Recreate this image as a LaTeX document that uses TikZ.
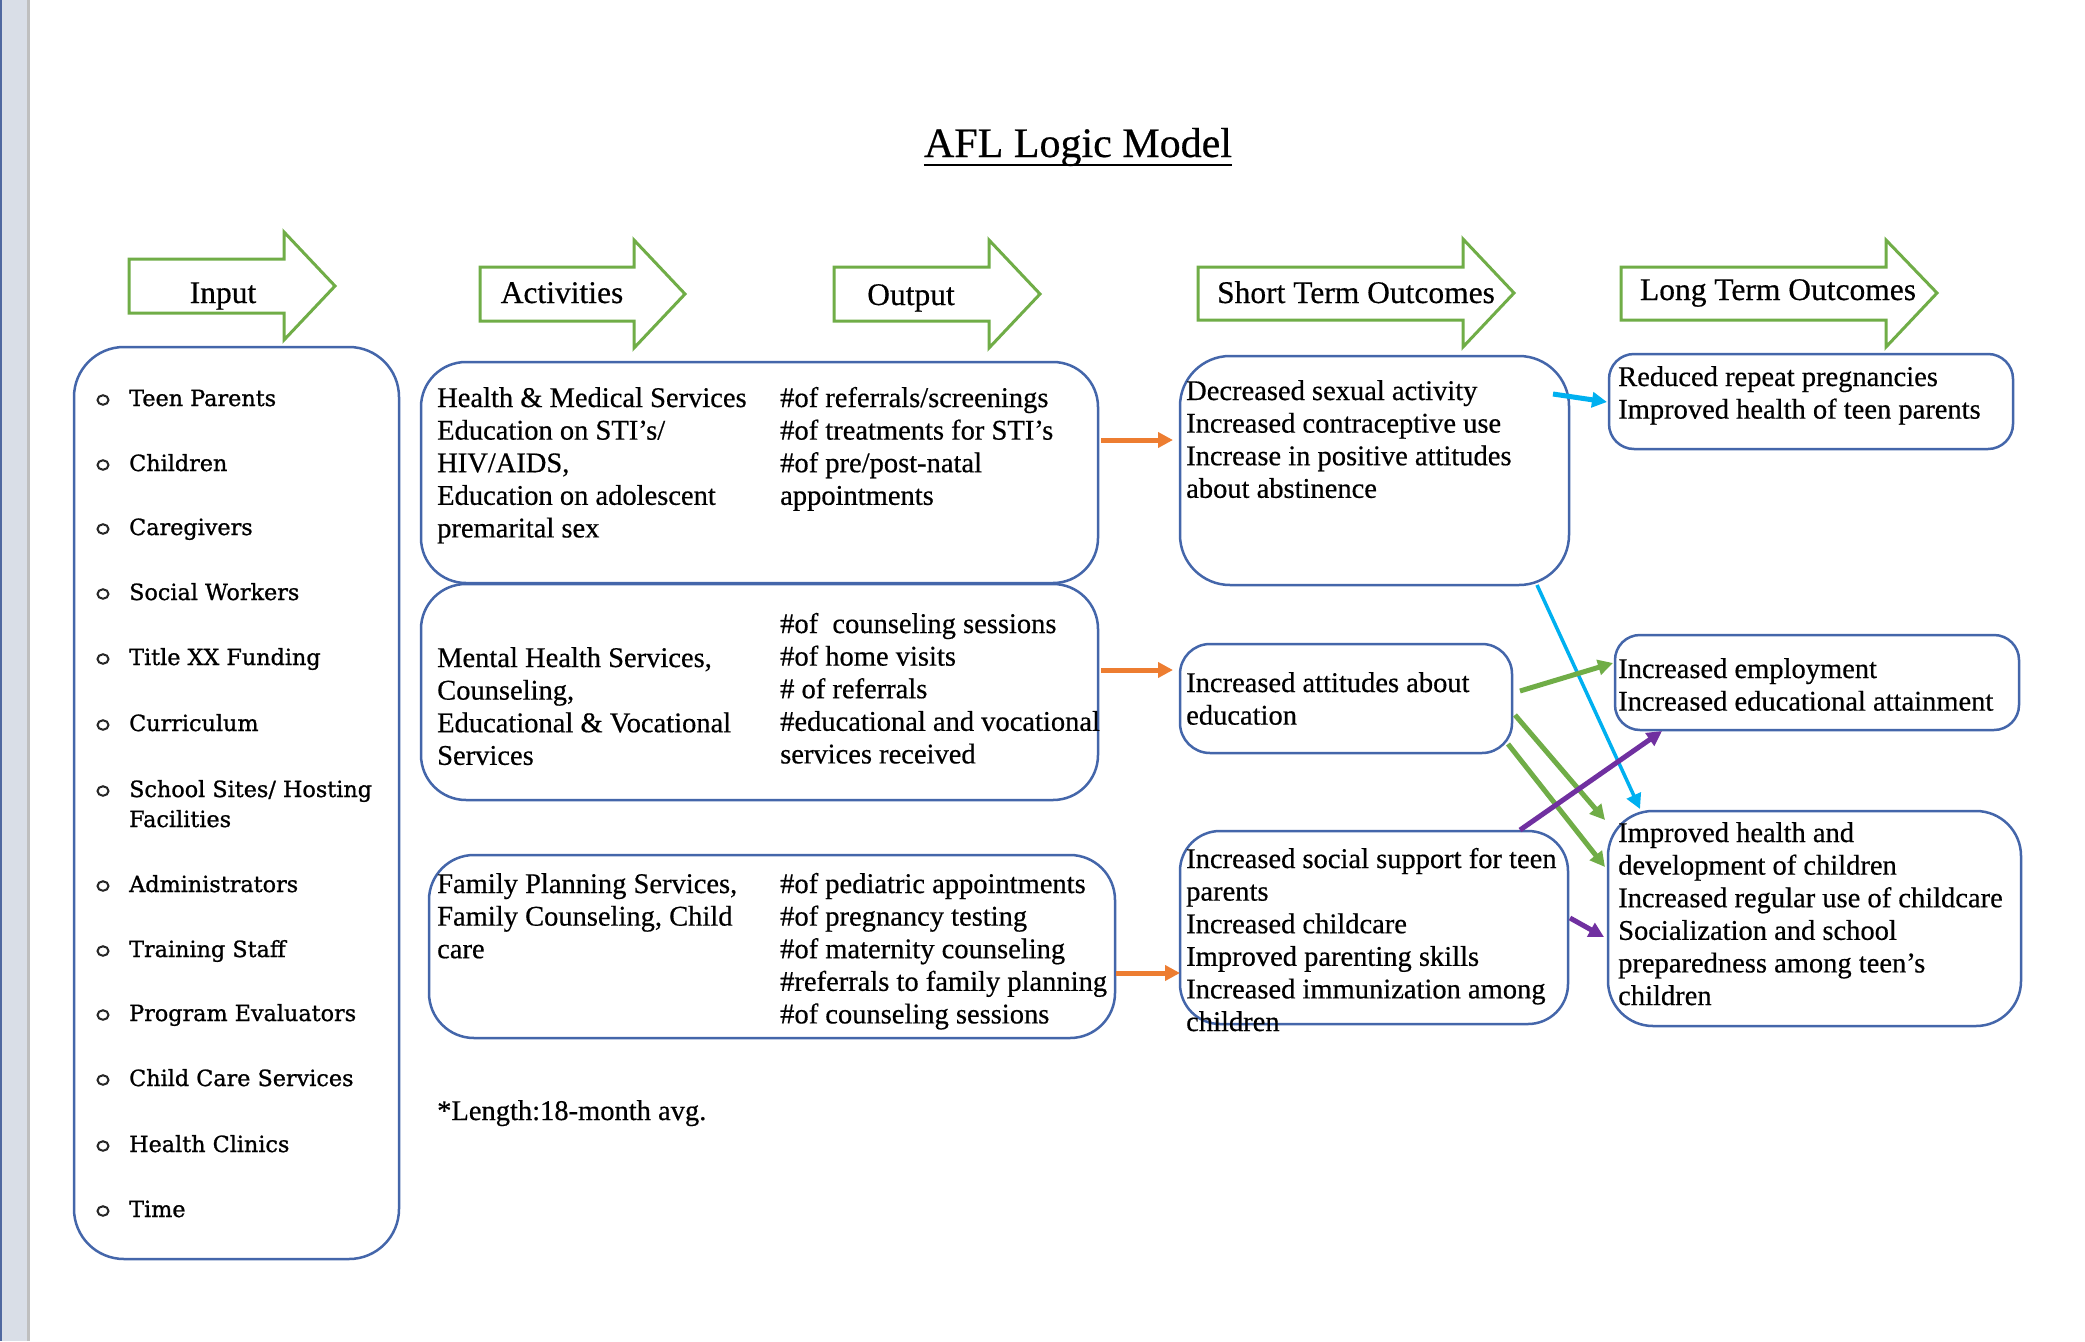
\documentclass[tikz,border=0pt]{standalone}
\usepackage{fontspec}
\setmainfont[FakeBold=0.5]{Liberation Serif}
\newfontfamily\inpfont[FakeBold=1]{DejaVu Serif}
\usetikzlibrary{arrows.meta,shapes.geometric}
\definecolor{boxblue}{HTML}{4466AA}
\definecolor{hdrgreen}{HTML}{70AD47}
\definecolor{aorange}{HTML}{ED7D31}
\definecolor{acyan}{HTML}{00B0F0}
\definecolor{agreen}{HTML}{70AD47}
\definecolor{apurple}{HTML}{7030A0}
\definecolor{bandgray}{HTML}{D9DEE7}
\definecolor{bandline}{HTML}{5068A0}
\newcommand\ml[1]{\vtop{\let\\\cr\halign{##\hfil\cr#1\crcr}}}
\newcommand\bodyf{\fontsize{28.5}{32.6}\selectfont}
\newcommand\hdrf{\fontsize{31.5}{36}\selectfont}
\newcommand\inpf{\inpfont\fontsize{22.3}{30}\selectfont}
\begin{document}
\begin{tikzpicture}[x=1pt,y=-1pt,
  box/.style={draw=boxblue, line width=2.5pt, rounded corners=#1, inner sep=0pt, outer sep=0pt},
  box/.default=45pt,
  hdr/.style={draw=hdrgreen, line width=3pt, line join=miter, fill=white},
  hdrtxt/.style={anchor=base, inner sep=0pt, font=\hdrf},
  txt/.style={anchor=base west, inner sep=0pt, font=\bodyf},
  inp/.style={anchor=base west, inner sep=0pt, font=\inpf},
  bul/.style={ellipse, draw=black!85, line width=2pt, minimum width=11pt, minimum height=9.5pt, inner sep=0pt},
  oarr/.style={draw=aorange, line width=5pt, -{Triangle[length=15pt,width=15pt]}},
  carr/.style={draw=acyan, line width=#1, -{Triangle[length=15pt,width=15pt]}},
  garr/.style={draw=agreen, line width=5pt, -{Triangle[length=15pt,width=15pt]}},
  parr/.style={draw=apurple, line width=5pt, -{Triangle[length=15pt,width=15pt]}}
]
\useasboundingbox (0,0) rectangle (2085,1341);
\fill[white] (0,0) rectangle (2085,1341);
% left band
\fill[bandgray] (0,0) rectangle (27,1341);
\fill[bandline] (0,0) rectangle (2,1341);
\fill[black!25] (27,0) rectangle (30,1341);

% title
\node[anchor=base, inner sep=0pt, font=\fontsize{42}{48}\selectfont] (title) at (1078,157) {AFL Logic Model};
\draw[line width=2.5pt] ([yshift=-8pt]title.base west) -- ([yshift=-8pt]title.base east);

% header arrows
\draw[hdr] (129,259) -- (284,259) -- (284,232) -- (335,286) -- (284,340) -- (284,313) -- (129,313) -- cycle;
\draw[hdr] (480,267) -- (634,267) -- (634,240) -- (685,294) -- (634,348) -- (634,321) -- (480,321) -- cycle;
\draw[hdr] (834,267) -- (989,267) -- (989,240) -- (1040,294) -- (989,348) -- (989,321) -- (834,321) -- cycle;
\draw[hdr] (1198,267) -- (1463,267) -- (1463,239) -- (1514,293) -- (1463,347) -- (1463,320) -- (1198,320) -- cycle;
\draw[hdr] (1621,267) -- (1886,267) -- (1886,240) -- (1937,293) -- (1886,347) -- (1886,320) -- (1621,320) -- cycle;
\node[hdrtxt] (hin) at (223,303) {Input};
\node[hdrtxt] (hact) at (562,303) {Activities};
\node[hdrtxt] (hout) at (911,305) {Output};
\node[hdrtxt] (hst) at (1356,303) {Short Term Outcomes};
\node[hdrtxt] (hlt) at (1778,300) {Long Term Outcomes};

% boxes
\node[box=50pt, minimum width=325pt, minimum height=912pt] (inpbox) at (236.5,803) {};
\node[box, minimum width=677pt, minimum height=221pt] (a1) at (759.5,472.5) {};
\node[box, minimum width=677pt, minimum height=216pt] (a2) at (759.5,692) {};
\node[box, minimum width=686pt, minimum height=183pt] (a3) at (772,946.5) {};
\node[box=50pt, minimum width=389pt, minimum height=229pt] (s1) at (1374.5,470.5) {};
\node[box=30pt, minimum width=332pt, minimum height=109pt] (s2) at (1346,698.5) {};
\node[box=40pt, minimum width=388pt, minimum height=193pt] (s3) at (1374,927.5) {};
\node[box=25pt, minimum width=404pt, minimum height=95pt] (l1) at (1811,401.5) {};
\node[box=25pt, minimum width=404pt, minimum height=95pt] (l2) at (1817,682.5) {};
\node[box, minimum width=413pt, minimum height=215pt] (l3) at (1814.5,918.5) {};

% input list
\foreach \yy/\lab [count=\i] in {406/Teen Parents, 471/Children, 535/Caregivers, 600/Social Workers, 665/Title XX Funding, 731/Curriculum, 797/{\ml{School Sites/ Hosting\\Facilities}}, 892/Administrators, 957/Training Staff, 1021/Program Evaluators, 1086/Child Care Services, 1152/Health Clinics, 1217/Time}{
  \node[bul] (bul\i) at (103,\yy-6) {};
  \node[inp] (in\i) at (129,\yy) {\lab};
}

% activity / output text
\node[txt] (a1l) at (437,407) {\ml{Health \& Medical Services\\Education on STI’s/\\HIV/AIDS,\\Education on adolescent\\premarital sex}};
\node[txt] (a1r) at (780,407) {\ml{\#of referrals/screenings\\\#of treatments for STI’s\\\#of pre/post-natal\\appointments}};
\node[txt] (a2l) at (437,667) {\ml{Mental Health Services,\\Counseling,\\Educational \& Vocational\\Services}};
\node[txt] (a2r) at (780,633) {\ml{\#of\ \ counseling sessions\\\#of home visits\\\# of referrals\\\#educational and vocational\\services received}};
\node[txt] (a3l) at (437,893) {\ml{Family Planning Services,\\Family Counseling, Child\\care}};
\node[txt] (a3r) at (780,893) {\ml{\#of pediatric appointments\\\#of pregnancy testing\\\#of maternity counseling\\\#referrals to family planning\\\#of counseling sessions}};
\node[txt] (len) at (437,1120) {*Length:18-month avg.};

% outcomes text
\node[txt] (s1t) at (1186,400) {\ml{Decreased sexual activity\\Increased contraceptive use\\Increase in positive attitudes\\about abstinence}};
\node[txt] (s2t) at (1186,692) {\ml{Increased attitudes about\\education}};
\node[txt] (s3t) at (1186,868) {\ml{Increased social support for teen\\parents\\Increased childcare\\Improved parenting skills\\Increased immunization among\\children}};
\node[txt] (l1t) at (1618,386) {\ml{Reduced repeat pregnancies\\Improved health of teen parents}};
\node[txt] (l2t) at (1618,678) {\ml{Increased employment\\Increased educational attainment}};
\node[txt] (l3t) at (1618,842) {\ml{Improved health and\\development of children\\Increased regular use of childcare\\Socialization and school\\preparedness among teen’s\\children}};

% connectors
\draw[oarr] ([xshift=3pt,yshift=32.5pt]a1.east) -- ([xshift=-7pt,yshift=30.5pt]s1.west);
\draw[oarr] ([xshift=3pt,yshift=22pt]a2.east) -- ([xshift=-7pt,yshift=28.5pt]s2.west);
\draw[oarr] ([xshift=1pt,yshift=-26.5pt]a3.east) -- ([xshift=0pt,yshift=-45.5pt]s3.west);
\draw[carr=5pt] ([xshift=-16pt,yshift=-38pt]s1.north east) -- ([xshift=-2pt,yshift=-0.5pt]l1.west);
\draw[carr=3.5pt] ([xshift=-32pt]s1.south east) -- ([xshift=32pt,yshift=2pt]l3.north west);
\draw[garr] ([xshift=8pt,yshift=7.5pt]s2.east) -- ([xshift=-2pt,yshift=19.5pt]l2.west);
\draw[garr] ([xshift=3pt,yshift=-16.5pt]s2.east) -- ([xshift=-3pt,yshift=-9pt]l3.north west);
\draw[garr] ([xshift=-4pt,yshift=9pt]s2.south east) -- ([xshift=-3pt,yshift=-56pt]l3.north west);
\draw[parr] ([xshift=-48pt,yshift=1pt]s3.north east) -- ([xshift=47pt,yshift=-1pt]l2.south west);
\draw[parr] ([xshift=2pt,yshift=9.5pt]s3.east) -- ([xshift=-4pt,yshift=-18.5pt]l3.west);
\end{tikzpicture}
\end{document}
